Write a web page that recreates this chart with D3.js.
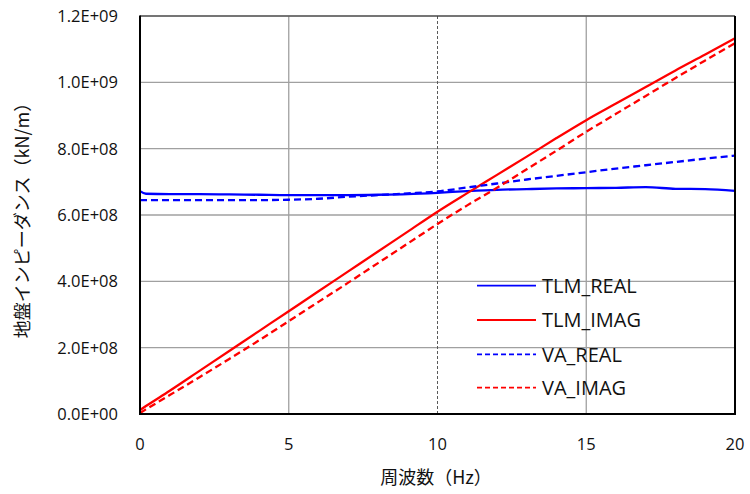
<!DOCTYPE html>
<html><head><meta charset="utf-8">
<script src="https://cdn.jsdelivr.net/npm/d3@7"></script>
<style>body{margin:0;background:#fff}svg{display:block}</style>
</head><body>
<svg id="c" width="750" height="494"></svg>
<script>
// Data (values in kN/m)
const freqs   = [0, 0.2, 1, 2, 3, 4, 5, 6, 7, 8, 9, 10, 11, 12, 13, 14, 15, 16, 17, 18, 19, 20];
const tlmReal = [6.72e8, 6.64e8, 6.63e8, 6.63e8, 6.62e8, 6.61e8, 6.60e8, 6.60e8, 6.60e8, 6.61e8, 6.63e8, 6.67e8, 6.72e8, 6.76e8, 6.78e8, 6.80e8, 6.81e8, 6.82e8, 6.84e8, 6.79e8, 6.78e8, 6.73e8];
const tlmImag = [0.12e8, 0.24e8, 0.70e8, 1.30e8, 1.90e8, 2.50e8, 3.10e8, 3.70e8, 4.30e8, 4.90e8, 5.50e8, 6.10e8, 6.66e8, 7.21e8, 7.76e8, 8.32e8, 8.86e8, 9.36e8, 9.86e8, 10.36e8, 10.84e8, 11.33e8];
const vaReal  = [6.45e8, 6.45e8, 6.45e8, 6.45e8, 6.45e8, 6.45e8, 6.46e8, 6.49e8, 6.55e8, 6.60e8, 6.65e8, 6.71e8, 6.83e8, 6.95e8, 7.07e8, 7.18e8, 7.29e8, 7.40e8, 7.50e8, 7.60e8, 7.70e8, 7.79e8];
const vaImag  = [0.03e8, 0.14e8, 0.57e8, 1.11e8, 1.66e8, 2.22e8, 2.80e8, 3.38e8, 3.96e8, 4.55e8, 5.14e8, 5.73e8, 6.29e8, 6.82e8, 7.38e8, 7.94e8, 8.51e8, 9.05e8, 9.59e8, 10.13e8, 10.66e8, 11.18e8];
const seriesNames = ["TLM_REAL", "TLM_IMAG", "VA_REAL", "VA_IMAG"];
const xTicks = [0, 5, 10, 15, 20];
const yTicks = [0, 2e8, 4e8, 6e8, 8e8, 1e9, 1.2e9];
const xTitle = "周波数（Hz）";
const yTitle = "地盤インピーダンス（kN/m）";

const svg = d3.select("#c");
const L = 140, R = 735, T = 16, B = 414;
const x = d3.scaleLinear().domain([0, 20]).range([L, R]);
const y = d3.scaleLinear().domain([0, 1.2e9]).range([B, T]);
const fmt = v => { const s = v.toExponential(1).toUpperCase(); return s.replace(/E([+-])(\d)$/, "E$10$2"); };

// grid
const g = svg.append("g");
g.selectAll(".hg").data(yTicks.slice(1)).join("line")
  .attr("x1", L).attr("x2", R).attr("y1", d => y(d)).attr("y2", d => y(d))
  .attr("stroke", "#a0a0a0").attr("stroke-width", 1.3);
g.selectAll(".vg").data(xTicks.slice(1, -1)).join("line")
  .attr("x1", d => x(d)).attr("x2", d => x(d)).attr("y1", T).attr("y2", B)
  .attr("stroke", d => d === 10 ? "#595959" : "#a0a0a0")
  .attr("stroke-width", d => d === 10 ? 1 : 1.3)
  .attr("stroke-dasharray", d => d === 10 ? "3,2" : null);

// series
const cols = ["#0000ff", "#ff0000", "#0000ff", "#ff0000"];
const dashes = [null, null, "7,4", "7,4"];
const vals = [tlmReal, tlmImag, vaReal, vaImag];
const line = d3.line().x(d => x(d[0])).y(d => y(d[1])).curve(d3.curveMonotoneX);
vals.forEach((v, i) => {
  svg.append("path").datum(freqs.map((f, j) => [f, v[j]]))
    .attr("d", line).attr("fill", "none").attr("stroke", cols[i])
    .attr("stroke-width", 2.3).attr("stroke-dasharray", dashes[i]);
});

// frame
svg.append("line").attr("x1", L).attr("x2", R).attr("y1", T).attr("y2", T).attr("stroke", "#333").attr("stroke-width", 1);
svg.append("line").attr("x1", R).attr("x2", R).attr("y1", T).attr("y2", B).attr("stroke", "#000").attr("stroke-width", 2);
svg.append("line").attr("x1", L).attr("x2", L).attr("y1", T - 0.5).attr("y2", B + 1).attr("stroke", "#000").attr("stroke-width", 2);
svg.append("line").attr("x1", L - 1).attr("x2", R + 1).attr("y1", B).attr("y2", B).attr("stroke", "#000").attr("stroke-width", 2);

// tick labels
const tf = "'Open Sans', sans-serif";
svg.selectAll(".yl").data(yTicks).join("text")
  .attr("x", 118).attr("y", d => y(d)).attr("dy", "0.36em")
  .attr("text-anchor", "end").attr("font-family", tf).attr("font-size", 16.5).attr("fill", "#111")
  .text(fmt);
svg.selectAll(".xl").data(xTicks).join("text")
  .attr("x", d => x(d)).attr("y", 450)
  .attr("text-anchor", "middle").attr("font-family", tf).attr("font-size", 16.5).attr("fill", "#111")
  .text(d => d);

// titles
const jf = "'Noto Sans CJK JP', sans-serif";
svg.append("text").attr("x", 436).attr("y", 484).attr("text-anchor", "middle")
  .attr("font-family", jf).attr("font-size", 18).attr("fill", "#111").text(xTitle);
svg.append("text").attr("transform", "translate(29,216) rotate(-90)").attr("text-anchor", "middle")
  .attr("font-family", jf).attr("font-size", 18).attr("fill", "#111").text(yTitle);

// legend
const ly = [285.7, 320, 354.3, 387.7];
seriesNames.forEach((n, i) => {
  svg.append("line").attr("x1", 477).attr("x2", 536).attr("y1", ly[i]).attr("y2", ly[i])
    .attr("stroke", cols[i]).attr("stroke-width", 1.8).attr("stroke-dasharray", dashes[i] ? "5,3" : null);
  svg.append("text").attr("x", 542).attr("y", ly[i]).attr("dy", "0.36em")
    .attr("font-family", tf).attr("font-size", 20).attr("fill", "#111").text(n);
});
</script>
</body></html>
